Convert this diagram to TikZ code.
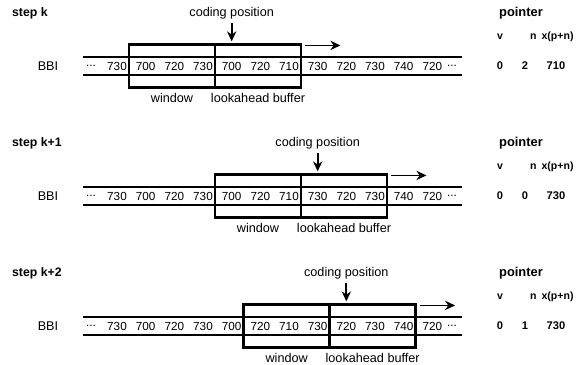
\documentclass[tikz,border=0pt]{standalone}
\usepackage{fontspec}
\setmainfont{Liberation Sans}
\usetikzlibrary{arrows.meta, positioning, calc}

\begin{document}
\begin{tikzpicture}[
    num/.style={font=\fontsize{10}{12}\selectfont, inner sep=1pt},
    lbl/.style={font=\fontsize{10.8}{13}\selectfont},
    hdr/.style={font=\fontsize{10.5}{12}\selectfont\bfseries},
    ptr/.style={font=\fontsize{9.5}{11}\selectfont\bfseries},
    col/.style={font=\fontsize{9}{11}\selectfont\bfseries},
    buf/.style={draw, line width=2.4pt, minimum width=2.58cm,
                minimum height=1.29cm},
    rail/.style={line width=1.6pt},
    mv/.style={-{Stealth[length=3mm, width=2.8mm]}, line width=1.5pt},
    >=Stealth
  ]
  \useasboundingbox (0,0) rectangle (17.28,-10.95);

  % Step k
  \node[hdr, anchor=west] (stepA) at (0.24,-0.39) {step k};
  \node[lbl] (bbiA) at (1.44,-1.98) {BBI};
  \draw[rail] (2.49,-1.71) -- (13.86,-1.71);
  \draw[rail] (2.49,-2.25) -- (13.86,-2.25);
  \node[num] (a0) at (2.73,-1.98) {...};
  \foreach \v [count=\i] in {730,700,720,730,700,720,710,730,720,730,740,720} {
    \node[num] (a\i) at ({3.51+0.86*(\i-1)},-1.98) {\v};
  }
  \node[num] (a13) at (13.56,-1.98) {...};
  \node[buf] (winA) at (5.16,-1.98) {};
  \node[buf] (lkA) at (7.74,-1.98) {};
  \node[lbl, below=0.02cm of winA] (wlA) {window};
  \node[lbl, below=0.02cm of lkA] (llA) {lookahead buffer};
  \node[lbl] (cpA) at (6.95,-0.39) {coding position};
  \coordinate (cpA-t) at (6.95,-1.24);
  \draw[mv] (cpA) -- (cpA-t);
  \coordinate (mvA-s) at ($(lkA.north east)+(0.09,-0.07)$);
  \coordinate (mvA-e) at ($(mvA-s)+(1.05,0)$);
  \draw[mv] (mvA-s) -- (mvA-e);
  \node[hdr, font=\fontsize{11}{13}\selectfont\bfseries] (ptrA) at (15.63,-0.39) {pointer};
  \node[col] (vA) at (15.0,-1.11) {v};
  \node[col] (nA) at (16.0,-1.11) {n};
  \node[col, anchor=east] (xA) at (17.33,-1.11) {x(p+n)};
  \node[ptr] (vA0) at (15.0,-1.98) {0};
  \node[ptr] (nA0) at (15.75,-1.98) {2};
  \node[ptr] (xA0) at (16.68,-1.98) {710};

  % Step k+1
  \node[hdr, anchor=west] (stepB) at (0.24,-4.29) {step k+1};
  \node[lbl] (bbiB) at (1.44,-5.88) {BBI};
  \draw[rail] (2.49,-5.61) -- (13.86,-5.61);
  \draw[rail] (2.49,-6.15) -- (13.86,-6.15);
  \node[num] (b0) at (2.73,-5.88) {...};
  \foreach \v [count=\i] in {730,700,720,730,700,720,710,730,720,730,740,720} {
    \node[num] (b\i) at ({3.51+0.86*(\i-1)},-5.88) {\v};
  }
  \node[num] (b13) at (13.56,-5.88) {...};
  \node[buf] (winB) at (7.74,-5.88) {};
  \node[buf] (lkB) at (10.32,-5.88) {};
  \node[lbl, below=0.02cm of winB] (wlB) {window};
  \node[lbl, below=0.02cm of lkB] (llB) {lookahead buffer};
  \node[lbl] (cpB) at (9.53,-4.29) {coding position};
  \coordinate (cpB-t) at (9.53,-5.14);
  \draw[mv] (cpB) -- (cpB-t);
  \coordinate (mvB-s) at ($(lkB.north east)+(0.09,-0.07)$);
  \coordinate (mvB-e) at ($(mvB-s)+(1.05,0)$);
  \draw[mv] (mvB-s) -- (mvB-e);
  \node[hdr, font=\fontsize{11}{13}\selectfont\bfseries] (ptrB) at (15.63,-4.29) {pointer};
  \node[col] (vB) at (15.0,-5.01) {v};
  \node[col] (nB) at (16.0,-5.01) {n};
  \node[col, anchor=east] (xB) at (17.33,-5.01) {x(p+n)};
  \node[ptr] (vB0) at (15.0,-5.88) {0};
  \node[ptr] (nB0) at (15.75,-5.88) {0};
  \node[ptr] (xB0) at (16.68,-5.88) {730};

  % Step k+2
  \node[hdr, anchor=west] (stepC) at (0.24,-8.19) {step k+2};
  \node[lbl] (bbiC) at (1.44,-9.78) {BBI};
  \draw[rail] (2.49,-9.51) -- (13.86,-9.51);
  \draw[rail] (2.49,-10.05) -- (13.86,-10.05);
  \node[num] (c0) at (2.73,-9.78) {...};
  \foreach \v [count=\i] in {730,700,720,730,700,720,710,730,720,730,740,720} {
    \node[num] (c\i) at ({3.51+0.86*(\i-1)},-9.78) {\v};
  }
  \node[num] (c13) at (13.56,-9.78) {...};
  \node[buf] (winC) at (8.60,-9.78) {};
  \node[buf] (lkC) at (11.18,-9.78) {};
  \node[lbl, below=0.02cm of winC] (wlC) {window};
  \node[lbl, below=0.02cm of lkC] (llC) {lookahead buffer};
  \node[lbl] (cpC) at (10.39,-8.19) {coding position};
  \coordinate (cpC-t) at (10.39,-9.04);
  \draw[mv] (cpC) -- (cpC-t);
  \coordinate (mvC-s) at ($(lkC.north east)+(0.09,-0.07)$);
  \coordinate (mvC-e) at ($(mvC-s)+(1.05,0)$);
  \draw[mv] (mvC-s) -- (mvC-e);
  \node[hdr, font=\fontsize{11}{13}\selectfont\bfseries] (ptrC) at (15.63,-8.19) {pointer};
  \node[col] (vC) at (15.0,-8.91) {v};
  \node[col] (nC) at (16.0,-8.91) {n};
  \node[col, anchor=east] (xC) at (17.33,-8.91) {x(p+n)};
  \node[ptr] (vC0) at (15.0,-9.78) {0};
  \node[ptr] (nC0) at (15.75,-9.78) {1};
  \node[ptr] (xC0) at (16.68,-9.78) {730};
\end{tikzpicture}
\end{document}
